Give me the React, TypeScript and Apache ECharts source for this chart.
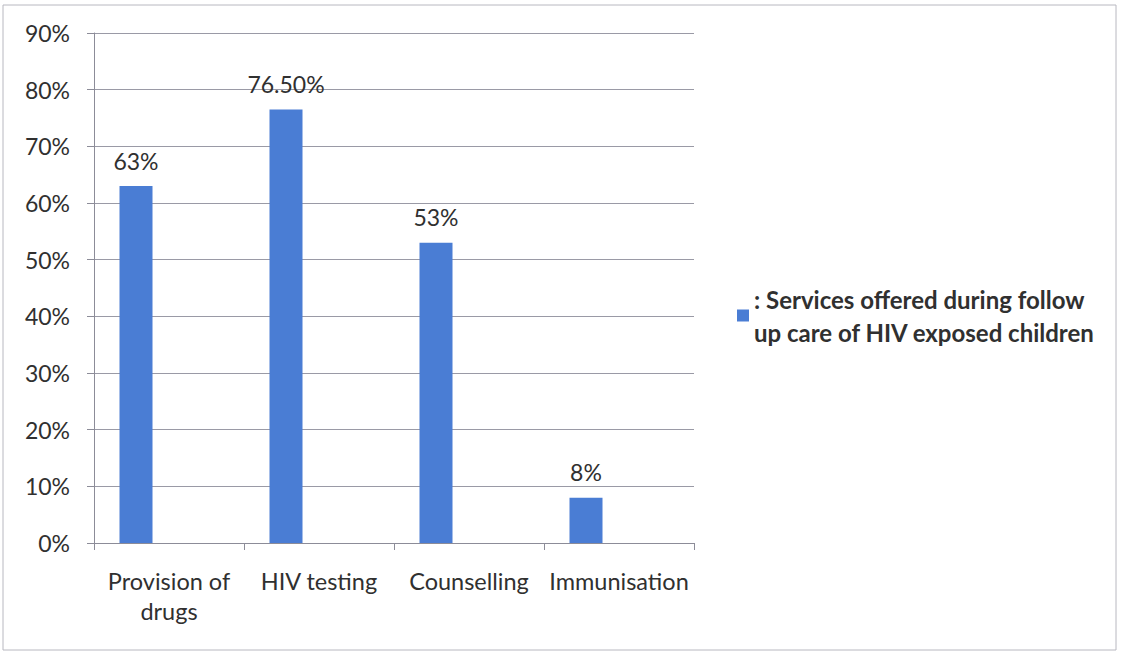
import React, { useEffect, useRef } from "react";
import * as echarts from "echarts";

const categories = ["Provision of\ndrugs", "HIV testing", "Counselling", "Immunisation"];
const values = [63, 76.5, 53, 8];
const valueLabels = ["63%", "76.50%", "53%", "8%"];
const seriesName = ": Services offered during follow\nup care of HIV exposed children";
const yTicks = { min: 0, max: 90, interval: 10 };

const FONT = "Lato, 'Open Sans', sans-serif";
const TEXT = "#303030";

export default function App() {
  const ref = useRef<HTMLDivElement>(null);
  useEffect(() => {
    if (!ref.current) return;
    const chart = echarts.init(ref.current, null, { renderer: "svg" });
    chart.setOption({
      animation: false,
      backgroundColor: "#ffffff",
      textStyle: { fontFamily: FONT },
      graphic: [
        {
          type: "rect",
          shape: { x: 3, y: 5, width: 1113, height: 645 },
          style: { fill: "none", stroke: "#b8b8c0", lineWidth: 1 },
          silent: true,
        },
      ],
      grid: { left: 94, right: 428, top: 33, bottom: 113, outerBoundsMode: "none" },
      legend: {
        data: [seriesName],
        left: 737,
        top: 266,
        padding: 0,
        orient: "vertical",
        icon: "rect",
        itemWidth: 12,
        itemHeight: 12,
        itemStyle: { color: "#4A7DD4" },
        textStyle: {
          fontFamily: FONT,
          fontSize: 24,
          fontWeight: "bold",
          color: TEXT,
          lineHeight: 33,
          padding: [33, 0, 0, 0],
        },
        selectedMode: false,
      },
      xAxis: {
        type: "category",
        data: categories,
        axisLine: { lineStyle: { color: "#8c8c98", width: 1 } },
        axisTick: { show: true, length: 7, lineStyle: { color: "#8c8c98" } },
        axisLabel: {
          fontFamily: FONT,
          fontSize: 23.5,
          color: TEXT,
          margin: 23,
          lineHeight: 30,
          interval: 0,
        },
      },
      yAxis: {
        type: "value",
        min: yTicks.min,
        max: yTicks.max,
        interval: yTicks.interval,
        axisLine: { show: true, lineStyle: { color: "#8c8c98", width: 1 } },
        axisTick: { show: true, length: 7, lineStyle: { color: "#8c8c98" } },
        splitLine: { lineStyle: { color: "#9a9aa6", width: 1 } },
        axisLabel: {
          fontFamily: FONT,
          fontSize: 23,
          color: TEXT,
          margin: 24,
          formatter: (v: number) => `${v}%`,
        },
      },
      series: [
        {
          name: seriesName,
          type: "bar",
          data: values,
          barWidth: 33,
          barGap: "0%",
          itemStyle: { color: "#4A7DD4" },
          label: {
            show: true,
            position: "top",
            distance: 14,
            fontFamily: FONT,
            fontSize: 23,
            color: TEXT,
            formatter: (p: any) => valueLabels[p.dataIndex],
          },
        },
        { name: "s2", type: "bar", data: [], barWidth: 33, barGap: "0%" },
        { name: "s3", type: "bar", data: [], barWidth: 33, barGap: "0%" },
      ],
    });
    return () => chart.dispose();
  }, []);
  return <div ref={ref} style={{ width: 1122, height: 656, position: "absolute", left: 0, top: 0 }} />;
}
